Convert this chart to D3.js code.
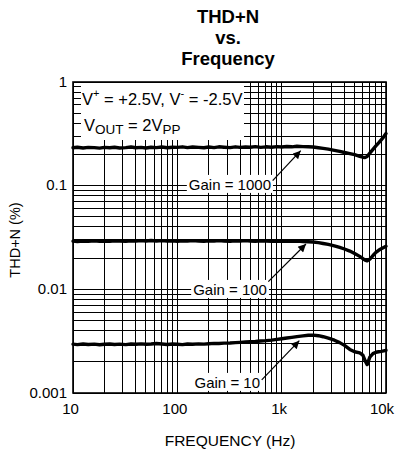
<!DOCTYPE html>
<html><head><meta charset="utf-8">
<script src="https://cdn.jsdelivr.net/npm/d3@7"></script>
<style>
body{margin:0;background:#fff}
svg{display:block}
text{font-family:"Liberation Sans",Arial,Helvetica,sans-serif;fill:#000}
</style>
</head><body>
<svg id="c" width="397" height="451"></svg>
<script>
// ---------------- DATA ----------------
const titleLines = ["THD+N", "vs.", "Frequency"];
const xTickValues = [10, 100, 1000, 10000];
const xTickLabels = ["10", "100", "1k", "10k"];
const yTickValues = [1, 0.1, 0.01, 0.001];
const yTickLabels = ["1", "0.1", "0.01", "0.001"];
const xTitle = "FREQUENCY (Hz)";
const yTitle = "THD+N (%)";

const freq = [10, 11, 12.5, 14, 16, 18, 20, 22.5, 25, 28, 32, 36, 40, 45, 50, 56, 63, 71, 80, 90,
  100, 112, 125, 140, 160, 180, 200, 225, 250, 280, 320, 360, 400, 450, 500, 560, 630, 710, 800, 900,
  1000, 1120, 1250, 1400, 1600, 1800, 2000, 2250, 2500, 2800, 3200, 3600, 4000, 4500, 5000, 5600,
  6000, 6300, 6600, 7000, 7500, 8000, 8500, 9000, 9500, 10000];

const thdGain1000 = [0.232, 0.235, 0.231, 0.234, 0.233, 0.230, 0.234, 0.232, 0.235, 0.231, 0.233, 0.236, 0.232, 0.234, 0.231, 0.235, 0.233, 0.236, 0.232, 0.235,
  0.234, 0.237, 0.233, 0.236, 0.234, 0.232, 0.236, 0.233, 0.237, 0.235, 0.233, 0.237, 0.234, 0.236, 0.235, 0.238, 0.234, 0.237, 0.235, 0.238,
  0.236, 0.239, 0.237, 0.240, 0.238, 0.237, 0.236, 0.232, 0.229, 0.225, 0.219, 0.214, 0.209, 0.204, 0.199, 0.192,
  0.188, 0.187, 0.191, 0.206, 0.224, 0.242, 0.259, 0.277, 0.296, 0.318];

const thdGain100 = [0.0292, 0.0289, 0.0293, 0.0290, 0.0294, 0.0291, 0.0293, 0.0290, 0.0294, 0.0292, 0.0290, 0.0294, 0.0292, 0.0295, 0.0293, 0.0296, 0.0293, 0.0295, 0.0292, 0.0294,
  0.0291, 0.0294, 0.0292, 0.0295, 0.0293, 0.0291, 0.0294, 0.0292, 0.0295, 0.0293, 0.0291, 0.0294, 0.0292, 0.0295, 0.0293, 0.0291, 0.0294, 0.0292, 0.0290, 0.0293,
  0.0291, 0.0293, 0.0290, 0.0292, 0.0289, 0.0288, 0.0286, 0.0282, 0.0277, 0.0271, 0.0263, 0.0254, 0.0245, 0.0234, 0.0222, 0.0208,
  0.0198, 0.0191, 0.0188, 0.0196, 0.0212, 0.0227, 0.0238, 0.0246, 0.0253, 0.0260];

const thdGain10 = [0.00296, 0.00293, 0.00297, 0.00294, 0.00296, 0.00292, 0.00295, 0.00297, 0.00294, 0.00296, 0.00293, 0.00297, 0.00295, 0.00298, 0.00295, 0.00297, 0.00300, 0.00297, 0.00294, 0.00297,
  0.00295, 0.00293, 0.00297, 0.00295, 0.00298, 0.00296, 0.00299, 0.00301, 0.00300, 0.00303, 0.00304, 0.00306, 0.00308, 0.00310, 0.00312, 0.00314, 0.00317, 0.00320, 0.00324, 0.00329,
  0.00334, 0.00339, 0.00344, 0.00350, 0.00356, 0.00361, 0.00362, 0.00357, 0.00349, 0.00338, 0.00323, 0.00306, 0.00288, 0.00263, 0.00250, 0.00244,
  0.00232, 0.00205, 0.00188, 0.00222, 0.00240, 0.00247, 0.00250, 0.00252, 0.00255, 0.00258];

const gainLabels = ["Gain = 1000", "Gain = 100", "Gain = 10"];
// label right-end anchor (freq, thd) and arrow tail/head (freq, thd)
const labelAnchorF = [790, 723, 620];
const labelAnchorV = [0.091, 0.00883, 0.00112];
const arrowTailF = [820, 745, 644];
const arrowTailV = [0.1117, 0.01186, 0.001337];
const arrowHeadF = [1522, 1710, 1476];
const arrowHeadV = [0.2176, 0.0274, 0.0032];

// ---------------- CHART ----------------
const svg = d3.select("#c");
const L = 73, R = 386, T = 82, B = 393;
const x = d3.scaleLog().domain([10, 10000]).range([L, R]);
const y = d3.scaleLog().domain([0.001, 1]).range([B, T]);

svg.append("rect").attr("width", 397).attr("height", 451).attr("fill", "#fff");

// grid
const g = svg.append("g").attr("shape-rendering", "crispEdges");
g.selectAll(".vx").data(x.ticks()).join("line")
  .attr("x1", d => x(d)).attr("x2", d => x(d)).attr("y1", T).attr("y2", B)
  .attr("stroke", "#000").attr("stroke-width", 1);
g.selectAll(".hy").data(y.ticks()).join("line")
  .attr("y1", d => y(d)).attr("y2", d => y(d)).attr("x1", L).attr("x2", R)
  .attr("stroke", "#000").attr("stroke-width", 1);

// condition legend box (white background)
svg.append("rect").attr("x", 81).attr("y", T + 1).attr("width", 163).attr("height", 57).attr("fill", "#fff");

// gain label boxes
const labelFont = 15;
const labels = svg.append("g");
gainLabels.forEach((t, i) => {
  const tx = x(labelAnchorF[i]), ty = y(labelAnchorV[i]);
  const txt = labels.append("text").attr("x", tx).attr("y", ty)
    .attr("text-anchor", "end").attr("font-size", labelFont).text(t);
  const bb = txt.node().getBBox();
  labels.insert("rect", "text").attr("x", bb.x - 2).attr("y", bb.y - 1)
    .attr("width", bb.width + 4).attr("height", bb.height + 1).attr("fill", "#fff");
});

// curves
const line = d3.line().x((d, i) => x(freq[i])).y(d => y(d));
[thdGain1000, thdGain100, thdGain10].forEach(s => {
  svg.append("path").attr("d", line(s)).attr("fill", "none")
    .attr("stroke", "#000").attr("stroke-width", 3.4)
    .attr("stroke-linejoin", "round").attr("stroke-linecap", "round");
});

// arrows
svg.append("defs").append("marker").attr("id", "ah")
  .attr("viewBox", "0 0 10 10").attr("refX", 10).attr("refY", 5)
  .attr("markerWidth", 11).attr("markerHeight", 8).attr("markerUnits", "userSpaceOnUse")
  .attr("orient", "auto")
  .append("path").attr("d", "M0,0L10,5L0,10Z").attr("fill", "#000");
arrowTailF.forEach((f, i) => {
  svg.append("line")
    .attr("x1", x(f)).attr("y1", y(arrowTailV[i]))
    .attr("x2", x(arrowHeadF[i])).attr("y2", y(arrowHeadV[i]))
    .attr("stroke", "#000").attr("stroke-width", 1.2).attr("marker-end", "url(#ah)");
});

// border
svg.append("rect").attr("x", L).attr("y", T).attr("width", R - L).attr("height", B - T)
  .attr("fill", "none").attr("stroke", "#000").attr("stroke-width", 1.6);

// condition text
const c1 = svg.append("text").attr("x", 82).attr("y", 105).attr("font-size", 16.5);
c1.append("tspan").text("V");
c1.append("tspan").attr("dy", -8).attr("font-size", 11).text("+");
c1.append("tspan").attr("dy", 8).text(" = +2.5V, V");
c1.append("tspan").attr("dy", -8).attr("font-size", 11).text("-");
c1.append("tspan").attr("dy", 8).text(" = -2.5V");

const c2 = svg.append("text").attr("x", 84).attr("y", 131).attr("font-size", 16.5);
c2.append("tspan").text("V");
c2.append("tspan").attr("dy", 3).attr("font-size", 13.5).text("OUT");
c2.append("tspan").attr("dy", -3).text(" = 2V");
c2.append("tspan").attr("dy", 3).attr("font-size", 13.5).text("PP");

// tick labels
svg.selectAll(".xl").data(xTickValues).join("text")
  .attr("x", d => Math.min(x(d) - 2.5, 382)).attr("y", B + 21).attr("text-anchor", "middle")
  .attr("font-size", 15).text((d, i) => xTickLabels[i]);
svg.selectAll(".yl").data(yTickValues).join("text")
  .attr("x", L - 6).attr("y", d => y(d) + 4.5).attr("text-anchor", "end")
  .attr("font-size", 15).text((d, i) => yTickLabels[i]);

// axis titles
svg.append("text").attr("x", 230).attr("y", 446).attr("text-anchor", "middle")
  .attr("font-size", 15.5).text(xTitle);
svg.append("text").attr("transform", "translate(20,240) rotate(-90)")
  .attr("text-anchor", "middle").attr("font-size", 14.5).text(yTitle);

// title (three stacked lines)
titleLines.forEach((t, i) => {
  svg.append("text").attr("x", 228).attr("y", 23 + i * 21)
    .attr("text-anchor", "middle").attr("font-size", 18.5).attr("font-weight", "bold").text(t);
});
</script>
</body></html>
